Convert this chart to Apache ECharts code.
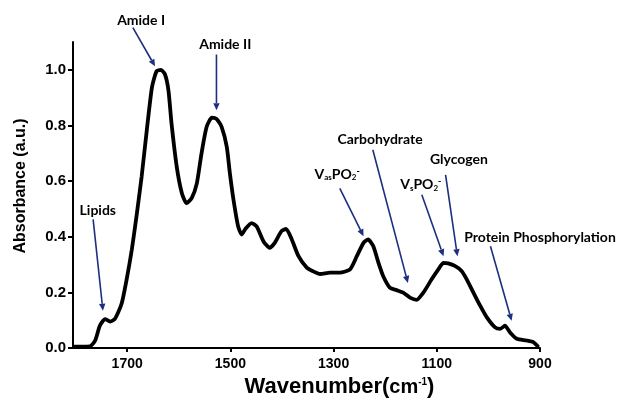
<!DOCTYPE html>
<html>
<head>
<meta charset="utf-8">
<script src="https://cdn.jsdelivr.net/npm/echarts@6/dist/echarts.min.js"></script>
<style>html,body{margin:0;padding:0;background:#fff}#c{width:623px;height:403px}</style>
</head>
<body>
<div id="c"></div>
<script>
// Spectrum (wavenumber cm^-1, absorbance a.u.)
var wavenumber = [1805,1790,1772,1762,1753,1743,1733,1724,1711,1701,1691,1682,1672,1662,1652,1643,1635,1627,1620,1614,1604,1594,1585,1575,1565,1556,1546,1536,1527,1517,1507,1501,1494,1485,1478,1471,1459,1449,1436,1424,1414,1401,1392,1381,1368,1352,1340,1326,1307,1288,1268,1255,1242,1233,1223,1213,1204,1191,1178,1165,1152,1139,1126,1110,1097,1087,1078,1065,1052,1042,1029,1016,1003,987,977,968,958,945,926,913,903];
var absorbance = [0.005,0.005,0.006,0.027,0.080,0.104,0.095,0.104,0.158,0.247,0.354,0.473,0.616,0.783,0.937,0.995,1.0,0.985,0.926,0.806,0.652,0.556,0.521,0.539,0.592,0.699,0.795,0.828,0.824,0.795,0.723,0.628,0.533,0.437,0.408,0.428,0.449,0.437,0.384,0.360,0.378,0.420,0.428,0.390,0.330,0.289,0.276,0.266,0.271,0.271,0.283,0.330,0.378,0.390,0.366,0.306,0.259,0.217,0.208,0.199,0.181,0.173,0.199,0.247,0.283,0.306,0.304,0.295,0.277,0.247,0.199,0.152,0.110,0.074,0.069,0.080,0.056,0.033,0.027,0.021,0.003];

var xTicks = [1700,1500,1300,1100,900];
var yTicks = [0,0.2,0.4,0.6,0.8,1.0];

// Annotations: label, text position [x,y], arrow start [x,y], arrow end [x,y] (data coords)
var annLabels = ['Amide I','Amide II','Lipids','{n|V}{sub|as}{n|PO}{sub|2}{sup|-}','Carbohydrate','Glycogen','{n|V}{sub|s}{n|PO}{sub|2}{sup|-}','Protein Phosphorylation'];
var annText   = [[1673,1.177],[1510,1.091],[1757,0.495],[1293,0.624],[1210,0.748],[1057,0.677],[1131,0.5875],[900,0.398]];
var annFrom   = [[1689,1.152],[1527,1.055],[1766,0.4625],[1288,0.574],[1224,0.7125],[1083,0.622],[1129,0.551],[996,0.366]];
var annTo     = [[1646,1.0125],[1527,0.855],[1747,0.134],[1242,0.402],[1156,0.234],[1060,0.330],[1087,0.330],[955,0.098]];

var chart = echarts.init(document.getElementById('c'), null, {renderer:'canvas'});
var seriesData = wavenumber.map(function(w,i){return [w, absorbance[i]];});

var option = {
  backgroundColor:'#fff',
  animation:false,
  grid:{left:73, right:83, top:42, bottom:50.5, containLabel:false},
  xAxis:{
    type:'value', inverse:true, min:900, max:1805, interval:200,
    name:'Wavenumber{sup|(}{s|cm}{ss|-1}{sup|)}',
    nameLocation:'middle', nameGap:28,
    nameTextStyle:{fontFamily:'Liberation Sans', fontWeight:'bold', fontSize:22, color:'#000', padding:[0,0,0,66],
      rich:{sup:{fontFamily:'Liberation Sans',fontWeight:'bold',fontSize:22,color:'#000'},
            s:{fontFamily:'Liberation Sans',fontWeight:'bold',fontSize:20,color:'#000'},
            ss:{fontFamily:'Liberation Sans',fontWeight:'bold',fontSize:10,color:'#000',padding:[0,0,10,0]}}},
    axisLine:{lineStyle:{color:'#000',width:2}},
    axisTick:{show:true, length:4, lineStyle:{color:'#000',width:2}, customValues:xTicks},
    axisLabel:{customValues:xTicks, margin:9, fontFamily:'Liberation Sans', fontWeight:'bold', fontSize:14, color:'#000',
      formatter:function(v){return String(v);}},
    splitLine:{show:false}
  },
  yAxis:{
    type:'value', min:0, max:1.1, interval:0.2,
    name:'Absorbance (a.u.)', nameLocation:'middle', nameGap:44, nameRotate:90,
    nameTextStyle:{fontFamily:'Liberation Sans', fontWeight:'bold', fontSize:16, color:'#000', padding:[0,0,0,18]},
    axisLine:{show:true, lineStyle:{color:'#000',width:2}},
    axisTick:{show:true, length:5, lineStyle:{color:'#000',width:2}, customValues:yTicks},
    axisLabel:{customValues:yTicks, margin:7, fontFamily:'Liberation Sans', fontWeight:'bold', fontSize:15, color:'#000',
      formatter:function(v){return v.toFixed(1);}},
    splitLine:{show:false}
  },
  series:[{
    type:'line', data:seriesData, smooth:0.2, showSymbol:false, symbol:'none',
    lineStyle:{color:'#000', width:3.8}, clip:false
  }]
};
chart.setOption(option);

// Annotations drawn via library coordinate conversion
var arrowColor = '#1d2f7e';
var gfx = [];
var rich = {
  n:{fontFamily:'Lato', fontWeight:'bold', fontSize:14, color:'#000'},
  sub:{fontFamily:'Lato', fontWeight:'bold', fontSize:8, color:'#000', padding:[7,0,0,0]},
  sup:{fontFamily:'Lato', fontWeight:'bold', fontSize:9, color:'#000', padding:[0,0,7,0]}
};
for (var i=0;i<annLabels.length;i++){
  var t = chart.convertToPixel({gridIndex:0}, annText[i]);
  var a = chart.convertToPixel({gridIndex:0}, annFrom[i]);
  var b = chart.convertToPixel({gridIndex:0}, annTo[i]);
  var lbl = annLabels[i];
  gfx.push({type:'text', x:t[0], y:t[1], z:10,
    style:{text: lbl.indexOf('{')===0 ? lbl : '{n|'+lbl+'}', rich:rich, align:'center', verticalAlign:'middle',
      fontFamily:'Lato', fontWeight:'bold', fontSize:14, fill:'#000'}});
  var dx=b[0]-a[0], dy=b[1]-a[1], L=Math.sqrt(dx*dx+dy*dy), ux=dx/L, uy=dy/L;
  var hl=7, hw=3.2;
  var bx=b[0]-ux*hl, by=b[1]-uy*hl;
  gfx.push({type:'line', z:10, shape:{x1:a[0],y1:a[1],x2:bx,y2:by}, style:{stroke:arrowColor, lineWidth:1.6}});
  gfx.push({type:'polygon', z:10, shape:{points:[[b[0],b[1]],[bx-uy*hw,by+ux*hw],[bx+uy*hw,by-ux*hw]]}, style:{fill:arrowColor}});
}
chart.setOption({graphic:gfx});
</script>
</body>
</html>
